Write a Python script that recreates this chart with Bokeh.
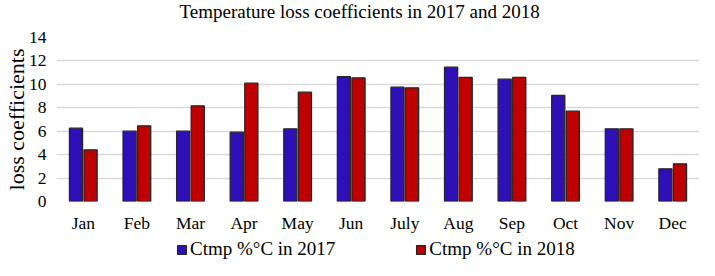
from bokeh.plotting import figure
from bokeh.models import ColumnDataSource, FactorRange, Legend, LegendItem, Label, Range1d
from bokeh.layouts import column
from bokeh.transform import dodge
from bokeh.embed import file_html
from bokeh.resources import INLINE

months = ["Jan", "Feb", "Mar", "Apr", "May", "Jun", "July", "Aug", "Sep", "Oct", "Nov", "Dec"]
ctmp_2017 = [6.26, 6.0, 6.0, 5.92, 6.2, 10.65, 9.76, 11.47, 10.44, 9.05, 6.2, 2.79]
ctmp_2018 = [4.41, 6.46, 8.17, 10.1, 9.33, 10.56, 9.7, 10.6, 10.59, 7.71, 6.2, 3.22]
y_ticks = [0, 2, 4, 6, 8, 10, 12, 14]
series_labels = ["Ctmp %°C in 2017", "Ctmp %°C in 2018"]
title_text = "Temperature loss coefficients in 2017 and 2018"

FONT = "Liberation Serif"
BLUE = "#2E0FB8"
RED = "#C00000"
EDGE = "#262626"

src = ColumnDataSource(dict(m=months, a=ctmp_2017, b=ctmp_2018))
xr = FactorRange(factors=months, range_padding=0)

def bars(fig, shift=0.0):
    a = fig.vbar(x=dodge("m", -0.136 + shift, range=xr), top="a", width=0.245, source=src,
                 fill_color=BLUE, line_color=EDGE, line_width=1.3)
    b = fig.vbar(x=dodge("m", 0.136 + shift, range=xr), top="b", width=0.245, source=src,
                 fill_color=RED, line_color=EDGE, line_width=1.3)
    return a, b

def strip(h, yr=(0, 1)):
    f = figure(x_range=xr, y_range=Range1d(*yr), width=699, height=h,
               output_backend="svg", toolbar_location=None,
               x_axis_location=None, y_axis_location=None, min_border=0)
    f.outline_line_color = None
    f.xgrid.grid_line_color = None
    f.ygrid.grid_line_color = None
    return f

# title strip
tf = strip(26)
tf.add_layout(Label(x=123, y=15, x_units="screen", y_units="screen", text=title_text,
                    text_font=FONT, text_font_size="19px", text_color="#000000",
                    text_baseline="middle", text_align="left"))

# main chart
p = figure(x_range=xr, y_range=(0, 14),
           width=699, height=212, output_backend="svg", toolbar_location=None,
           min_border_left=0, min_border_right=0, min_border_top=11, min_border_bottom=37)
bars(p)

p.outline_line_color = None
p.xgrid.grid_line_color = None
p.ygrid.grid_line_color = "#d9d9d9"
p.ygrid.grid_line_width = 1.5
p.yaxis.ticker = y_ticks

for ax in (p.xaxis[0], p.yaxis[0]):
    ax.axis_line_color = None
    ax.major_tick_line_color = None
    ax.minor_tick_line_color = None
    ax.major_tick_out = 0
    ax.major_tick_in = 0
    ax.major_label_text_font = FONT
    ax.major_label_text_color = "#000000"
    ax.major_label_text_font_size = "17.5px"

p.xaxis.major_label_standoff = 11
p.yaxis.major_label_standoff = 10
p.yaxis.axis_label = "loss coefficients"
p.yaxis.axis_label_text_font = FONT
p.yaxis.axis_label_text_font_style = "normal"
p.yaxis.axis_label_text_font_size = "22px"
p.yaxis.axis_label_standoff = -3
p.yaxis.axis_label_text_color = "#000000"

# legend strip: proxy bars with the same styles, placed far outside the strip's view
lf = strip(22, yr=(100, 101))
la, lb = bars(lf, shift=40.0)
legend = Legend(items=[LegendItem(label=series_labels[0], renderers=[la]),
                       LegendItem(label=series_labels[1], renderers=[lb])],
                orientation="horizontal", location=(120, 0),
                label_text_font=FONT, label_text_font_size="19px",
                label_text_color="#000000",
                glyph_width=11, glyph_height=11, label_standoff=3,
                spacing=80, padding=0, margin=0, border_line_color=None,
                background_fill_alpha=0)
lf.add_layout(legend)

open("out.html", "w").write(file_html(column(tf, p, lf, spacing=0), INLINE))
